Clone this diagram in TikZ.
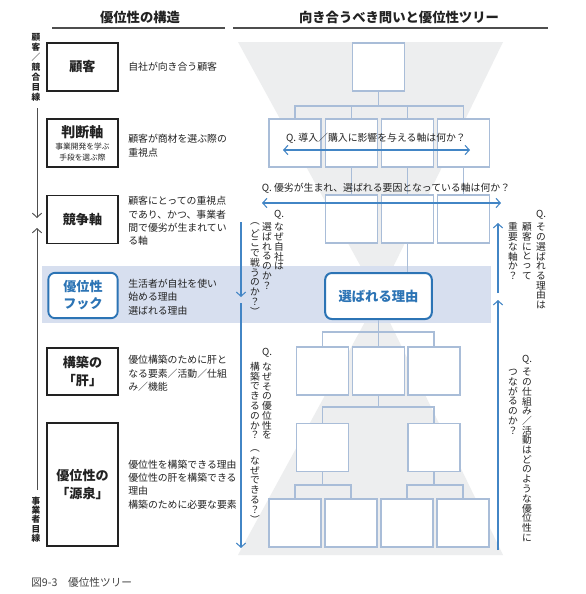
\documentclass[tikz,border=0pt]{standalone}
\usepackage{fontspec}
\setmainfont{Noto Sans CJK JP}
\usetikzlibrary{arrows.meta}
\definecolor{treeb}{HTML}{A9BDD8}
\definecolor{qblue}{HTML}{4285C5}
\definecolor{hblue}{HTML}{2C74B5}
\definecolor{bandc}{HTML}{D7DFEF}
\definecolor{funnelc}{HTML}{EDEEEF}
\definecolor{ink}{HTML}{222222}
\newdimen\vcw \newdimen\vch
\def\vcend{VCEND}
\def\vcloop#1{\ifx#1\vcend\else\vbox to\vch{\vss\hbox to\vcw{\hss#1\hss}\vss}\expandafter\vcloop\fi}
\newcommand\vstack[2][1em]{\vbox{\offinterlineskip\vch=#1\relax\vcw=1em\relax\vcloop#2\vcend}}
\begin{document}
\begin{tikzpicture}[x=0.75pt,y=-0.75pt,
  tbox/.style={draw=treeb,line width=0.9pt,fill=white,minimum width=39pt,minimum height=36pt,inner sep=0},
  lbox/.style={draw=ink,line width=0.8pt,fill=white,minimum width=53.25pt,minimum height=36pt,inner sep=0,align=center,font=\fontsize{9.8}{13.5}\selectfont\bfseries,text=ink},
  desc/.style={anchor=west,align=left,inner sep=0,font=\fontsize{7.4}{10}\selectfont,text=ink},
  conn/.style={draw=treeb,line width=0.9pt},
  qarrow/.style={draw=qblue,line width=0.8pt,{Straight Barb[length=3.2pt,width=7pt]}-{Straight Barb[length=3.2pt,width=7pt]}},
  varrow/.style={draw=qblue,line width=0.8pt,-{Straight Barb[length=3.2pt,width=7pt]}},
  karrow/.style={draw=ink!80,line width=0.7pt,-{Straight Barb[length=3.2pt,width=7pt]}},
  qtext/.style={inner sep=0,font=\fontsize{7.4}{9}\selectfont,text=ink},
  vt/.style={inner sep=0,font=\fontsize{7.3}{8}\selectfont,text=ink},
  head/.style={inner sep=0,font=\fontsize{10}{12}\selectfont\bfseries,text=ink}]
\useasboundingbox (0,0) rectangle (586,594);
\fill[white] (0,0) rectangle (586,594);
% background shapes
\fill[funnelc] (238,42) -- (503,42) -- (378,298) -- cycle;
\fill[funnelc] (378,298) -- (503,555) -- (238,555) -- cycle;
\fill[bandc] (42,266) rectangle (491,323);
% headers
\node[head] (h1) at (140,17) {優位性の構造};
\node[head] (h2) at (399,17) {向き合うべき問いと優位性ツリー};
\draw[ink!80,line width=0.8pt] (52,28) -- (225,28);
\draw[ink!80,line width=0.8pt] (233,28) -- (548,28);
% left column
\node[vt,anchor=north,font=\fontsize{6.5}{8}\selectfont\bfseries] (vl1) at (36,32) {\vstack[7.5pt]{顧客／競合目線}};
\node[vt,anchor=north,font=\fontsize{6.5}{8}\selectfont\bfseries] (vl2) at (36,496) {\vstack[7pt]{事業者目線}};
\coordinate (la1) at (37,108); \coordinate (la2) at (37,218);
\coordinate (la3) at (37,490); \coordinate (la4) at (37,228);
\draw[karrow] (la1) -- (la2);
\draw[karrow] (la3) -- (la4);
\node[lbox] (k1) at (82.5,67) {顧客};
\node[lbox] (k2) at (82.5,143) {};
\node[inner sep=0,font=\fontsize{10.5}{12}\selectfont\bfseries,text=ink] (k2t) at (82.5,132) {判断軸};
\node[inner sep=0,align=center,font=\fontsize{5.8}{8}\selectfont,text=ink] (k2s) at (82.5,152) {事業開発を学ぶ\\手段を選ぶ際};
\node[lbox] (k3) at (82.5,219.5) {競争軸};
\node[lbox,draw=hblue,line width=1.4pt,rounded corners=5pt,minimum width=52pt,minimum height=34pt,text=hblue,font=\fontsize{9.8}{12.8}\selectfont\bfseries] (k4) at (83,295.5) {優位性\\フック};
\node[lbox,minimum height=35.25pt] (k5) at (82.5,371.5) {構築の\\「肝」};
\node[lbox,minimum height=92.25pt,font=\fontsize{9.8}{14}\selectfont\bfseries] (k6) at (82.5,484.5) {優位性の\\「源泉」};
\node[desc] (d1) at (128,67) {自社が向き合う顧客};
\node[desc,font=\fontsize{7.4}{10.5}\selectfont] (d2) at (128,146) {顧客が商材を選ぶ際の\\重視点};
\node[desc] (d3) at (128,221) {顧客にとっての重視点\\であり、かつ、事業者\\間で優劣が生まれてい\\る軸};
\node[desc] (d4) at (128,297) {生活者が自社を使い\\始める理由\\選ばれる理由};
\node[desc] (d5) at (128,373.5) {優位構築のために肝と\\なる要素／活動／仕組\\み／機能};
\node[desc] (d6) at (128,484.5) {優位性を構築できる理由\\優位性の肝を構築できる\\理由\\構築のために必要な要素};
\node[anchor=west,inner sep=0,font=\fontsize{8}{10}\selectfont,text=ink!85] (cap) at (31,582) {図9-3\quad 優位性ツリー};
% tree
\node[tbox] (t0) at (378.5,67) {};
\node[tbox] (r1a) at (295,143) {};
\node[tbox] (r1b) at (351.5,143) {};
\node[tbox] (r1c) at (407.5,143) {};
\node[tbox] (r1d) at (463.5,143) {};
\node[tbox] (r2a) at (351.5,219) {};
\node[tbox] (r2b) at (407.5,219) {};
\node[tbox] (r2c) at (463.5,219) {};
\node[draw=hblue,line width=1.5pt,fill=white,rounded corners=5pt,minimum width=80pt,minimum height=34.5pt,inner sep=0,text=hblue,font=\fontsize{10}{12}\selectfont\bfseries] (why) at (378.5,296) {選ばれる理由};
\node[tbox] (r3a) at (322.5,371) {};
\node[tbox] (r3b) at (378.5,371) {};
\node[tbox] (r3c) at (434,371) {};
\node[tbox] (r4a) at (322.5,447.5) {};
\node[tbox] (r4b) at (434,447.5) {};
\node[tbox] (r5a) at (295,523) {};
\node[tbox] (r5b) at (351,523) {};
\node[tbox] (r5c) at (407,523) {};
\node[tbox] (r5d) at (463,523) {};
\coordinate (j1) at (378.5,106);
\coordinate (j3) at (378.5,332);
\coordinate (j4) at (378.5,407);
\coordinate (j5) at (378.5,485);
\draw[conn] (t0.south) -- (j1);
\draw[conn] (r1a.north) -- (r1a.north |- j1) -- (r1d.north |- j1) -- (r1d.north);
\draw[conn] (r1b.north) -- (r1b.north |- j1);
\draw[conn] (r1c.north) -- (r1c.north |- j1);
\draw[conn] (r1b.south) -- (r2a.north);
\draw[conn] (r1c.south) -- (r2b.north);
\draw[conn] (r1d.south) -- (r2c.north);
\draw[conn] (r2b.south) -- (r2b.south |- why.north);
\draw[conn] (why.south) -- (r3b.north);
\draw[conn] (r3a.north) -- (r3a.north |- j3) -- (r3c.north |- j3) -- (r3c.north);
\draw[conn] (r3b.south) -- (j4);
\draw[conn] (r4a.north) -- (r4a.north |- j4) -- (r4b.north |- j4) -- (r4b.north);
\draw[conn] (r4a.south) -- (r4a.south |- j5);
\draw[conn] (r4b.south) -- (r4b.south |- j5);
\draw[conn] (r5a.north) -- (r5a.north |- j5) -- (r5b.north |- j5) -- (r5b.north);
\draw[conn] (r5c.north) -- (r5c.north |- j5) -- (r5d.north |- j5) -- (r5d.north);
% horizontal questions
\node[qtext] (qa) at (376,138) {Q. 導入／購入に影響を与える軸は何か？};
\coordinate (qa1) at (283,150); \coordinate (qa2) at (470,150);
\draw[qarrow] (qa1) -- (qa2);
\node[qtext] (qb) at (386,188) {Q. 優劣が生まれ、選ばれる要因となっている軸は何か？};
\coordinate (qb1) at (262,203); \coordinate (qb2) at (501,203);
\draw[qarrow] (qb1) -- (qb2);
% vertical arrows
\coordinate (va1) at (241,222); \coordinate (va2) at (241,297);
\coordinate (va3) at (241,303); \coordinate (va4) at (241,548);
\draw[varrow] (va1) -- (va2);
\draw[varrow] (va3) -- (va4);
\coordinate (vb1) at (498,293); \coordinate (vb2) at (498,223);
\coordinate (vb3) at (498,550); \coordinate (vb4) at (498,300);
\draw[varrow] (vb1) -- (vb2);
\draw[varrow] (vb3) -- (vb4);
% vertical question texts (left)
\node[vt] (p1q) at (279,215) {Q.};
\node[vt,anchor=north] (p1a) at (279,222) {\vstack{なぜ自社は}};
\node[vt,anchor=north] (p1b) at (267,222) {\vstack{選ばれるのか？}};
\node[vt,anchor=north] (p1c) at (255,219) {\vstack{︵どこで戦うのか？︶}};
\node[vt] (p2q) at (267,353) {Q.};
\node[vt,anchor=north] (p2a) at (267,362) {\vstack{なぜその優位性を}};
\node[vt,anchor=north] (p2b) at (255,362) {\vstack{構築できるのか？}};
\node[vt,anchor=north] (p2c) at (255,446) {\vstack{︵なぜできる？︶}};
% vertical question texts (right)
\node[vt] (s1q) at (541,215) {Q.};
\node[vt,anchor=north] (s1a) at (541,222) {\vstack{その選ばれる理由は}};
\node[vt,anchor=north] (s1b) at (527,222) {\vstack{顧客にとって}};
\node[vt,anchor=north] (s1c) at (513,222) {\vstack{重要な軸か？}};
\node[vt] (s2q) at (527,360) {Q.};
\node[vt,anchor=north] (s2a) at (527,367) {\vstack{その仕組み／活動はどのような優位性に}};
\node[vt,anchor=north] (s2b) at (513,367) {\vstack{つながるのか？}};
\end{tikzpicture}
\end{document}
